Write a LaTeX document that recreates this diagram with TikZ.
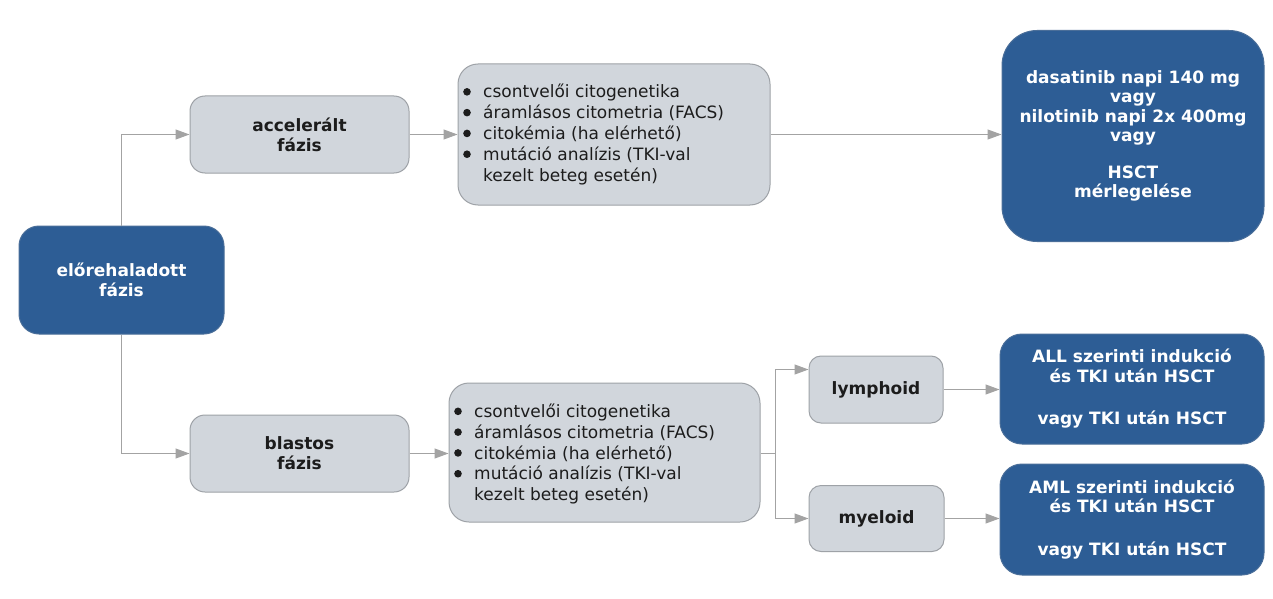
\documentclass[tikz,border=0pt]{standalone}
\usepackage{fontspec}
\setmainfont{DejaVu Sans}
\usetikzlibrary{arrows.meta,calc}
\definecolor{bluebox}{HTML}{2D5D95}
\definecolor{blueline}{HTML}{4A6E99}
\definecolor{graybox}{HTML}{D1D6DC}
\definecolor{grayline}{HTML}{9EA2A7}
\definecolor{conncol}{HTML}{A3A3A3}
\definecolor{txt}{HTML}{1C1C1C}
\newcommand{\bul}{\makebox[20pt][l]{\raisebox{2.3pt}{\tikz[x=1pt,y=1pt]\fill[txt] (0,0) circle[radius=3.8pt];}}}
\tikzset{
  bluenode/.style={draw=blueline, line width=1pt, fill=bluebox, text=white, font=\fontsize{17}{19.5}\selectfont\bfseries, align=center, inner sep=0pt},
  graynode/.style={draw=grayline, line width=1pt, fill=graybox, text=txt, font=\fontsize{17}{20}\selectfont\bfseries, align=center, inner sep=0pt},
  listnode/.style={draw=grayline, line width=1pt, fill=graybox, inner sep=0pt, rounded corners=20pt},
  listtext/.style={text=txt, font=\fontsize{17}{20.8}\selectfont, align=left, anchor=west, inner sep=0pt},
  conn/.style={draw=conncol, line width=1pt, -{Triangle[length=14pt,width=10pt]}},
  plainconn/.style={draw=conncol, line width=1pt}
}
\begin{document}
\begin{tikzpicture}[x=1pt,y=-1pt]
\useasboundingbox[fill=white] (0,0) rectangle (1273,599);
% nodes
\node[bluenode, minimum width=205pt, minimum height=108pt, rounded corners=20pt] (elo) at (121.5,280) {előrehaladott\\fázis};
\node[graynode, minimum width=219pt, minimum height=77pt, rounded corners=15pt] (acc) at (299.5,134.5) {accelerált\\fázis};
\node[graynode, minimum width=219pt, minimum height=77pt, rounded corners=15pt] (bla) at (299.5,453.5) {blastos\\fázis};
\node[listnode, minimum width=312pt, minimum height=141pt] (lista) at (614,134.5) {};
\node[listtext] (listatxt) at (463,134.5) {\bul csontvelői citogenetika\\\bul áramlásos citometria (FACS)\\\bul citokémia (ha elérhető)\\\bul mutáció analízis (TKI-val\\\hspace*{20pt}kezelt beteg esetén)};
\node[listnode, minimum width=311pt, minimum height=139pt] (listb) at (604.5,452.5) {};
\node[listtext] (listbtxt) at (454,454) {\bul csontvelői citogenetika\\\bul áramlásos citometria (FACS)\\\bul citokémia (ha elérhető)\\\bul mutáció analízis (TKI-val\\\hspace*{20pt}kezelt beteg esetén)};
\node[bluenode, minimum width=262pt, minimum height=211pt, rounded corners=35pt] (dasa) at (1133,136) {dasatinib napi 140 mg\\vagy\\nilotinib napi 2x 400mg\\vagy\\[17pt]HSCT\\mérlegelése};
\node[graynode, minimum width=134pt, minimum height=67pt, rounded corners=12pt] (lym) at (876,389.5) {lymphoid};
\node[graynode, minimum width=135pt, minimum height=66pt, rounded corners=12pt] (mye) at (876.5,518.5) {myeloid};
\node[bluenode, minimum width=264pt, minimum height=110pt, rounded corners=22pt] (all) at (1132,389) {ALL szerinti indukció\\és TKI után HSCT\\[23pt]vagy TKI után HSCT};
\node[bluenode, minimum width=264pt, minimum height=111pt, rounded corners=22pt] (aml) at (1132,519.5) {AML szerinti indukció\\és TKI után HSCT\\[23pt]vagy TKI után HSCT};
% connectors
\draw[conn] (elo.north) |- (acc.west);
\draw[conn] (elo.south) |- (bla.west);
\draw[conn] (acc.east) -- (acc.east -| lista.west);
\draw[conn] (lista.east) -- (lista.east -| dasa.west);
\draw[conn] (bla.east) -- (bla.east -| listb.west);
\coordinate (j) at (775,453.5);
\draw[plainconn] (listb.east |- j) -- (j);
\draw[conn] (j) |- ([yshift=20pt]lym.west);
\draw[conn] (j) |- (mye.west);
\draw[conn] (lym.east) -- (lym.east -| all.west);
\draw[conn] (mye.east) -- (mye.east -| aml.west);
\end{tikzpicture}
\end{document}
